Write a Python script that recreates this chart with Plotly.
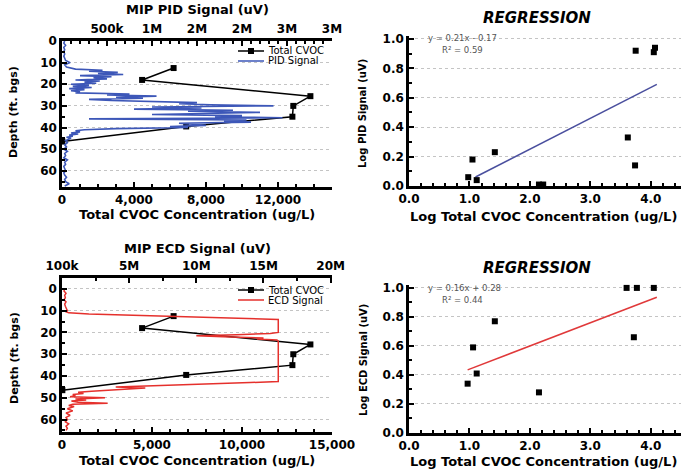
import plotly.graph_objects as go

W, H = 693, 471
FONT = "DejaVu Sans"

# ---------------- data ----------------
# Total CVOC profile (ug/L) vs depth (ft bgs), same boring in both panels
cvoc_depth = [12.5, 18, 25.5, 30, 35, 39.5, 46.5]
cvoc_conc = [6200, 4450, 13800, 12850, 12800, 6900, 20]

# MIP PID signal (uV) vs depth
pid_depth = [0, 1, 2, 3, 4, 5, 6, 7, 8, 9, 10, 11, 12, 13, 13.5, 14, 14.5, 15, 15.5, 16,
             16.5, 17, 17.5, 18, 18.5, 19, 19.5, 20, 20.5, 21, 21.5, 22, 22.5, 23, 23.5,
             24, 24.5, 25, 25.5, 26, 26.5, 27, 27.5, 28, 28.5, 29, 29.5, 30, 30.5, 31,
             31.5, 32, 32.5, 33, 33.5, 34, 34.5, 35, 35.5, 36, 36.5, 37, 37.5, 38, 38.5,
             39, 39.5, 40, 40.5, 41, 41.5, 42, 42.5, 43, 43.5, 44, 44.5, 45, 46, 47, 48,
             49, 50, 51, 52, 53, 54, 55, 56, 57, 58, 59, 60, 61, 62, 63, 64, 65, 66, 67]
pid_signal = [30e3, 20e3, 40e3, 20e3, 30e3, 20e3, 30e3, 20e3, 30e3, 40e3, 90e3, 30e3, 50e3,
              150e3, 450e3, 300e3, 620e3, 400e3, 680e3, 200e3, 550e3, 350e3, 500e3, 150e3,
              420e3, 250e3, 380e3, 100e3, 300e3, 120e3, 330e3, 80e3, 250e3, 100e3, 200e3,
              150e3, 750e3, 500e3, 1050e3, 600e3, 900e3, 300e3, 550e3, 1200e3, 1500e3,
              1300e3, 1650e3, 2350e3, 1000e3, 1550e3, 800e3, 1900e3, 1400e3, 2200e3,
              1600e3, 1000e3, 2000e3, 1700e3, 2450e3, 300e3, 2050e3, 1800e3, 2100e3,
              1300e3, 1450e3, 1600e3, 1200e3, 1400e3, 600e3, 250e3, 150e3, 200e3, 100e3,
              180e3, 80e3, 120e3, 50e3, 100e3, 40e3, 60e3, 30e3, 50e3, 20e3, 60e3, 30e3,
              40e3, 20e3, 60e3, 30e3, 40e3, 20e3, 30e3, 40e3, 20e3, 30e3, 50e3, 30e3,
              40e3, 80e3, 30e3]

# MIP ECD signal (uV) vs depth
ecd_depth = [0, 1, 2, 3, 4, 5, 6, 7, 8, 9, 10, 10.5, 11, 11.5, 12, 12.5, 13, 13.5, 14, 20,
             20.5, 21, 21.5, 22, 22.5, 23, 23.5, 24, 42.5, 43, 43.5, 44, 44.5, 45, 45.5, 46,
             46.5, 47, 47.5, 48, 48.5, 49, 49.5, 50, 50.5, 51, 51.5, 52, 52.5, 53, 53.5,
             54, 55, 56, 57, 58, 59, 60, 61, 62, 63, 64, 65]
ecd_signal = [0.2e6, 0.15e6, 0.3e6, 0.2e6, 0.25e6, 0.15e6, 0.3e6, 0.2e6, 0.25e6, 0.3e6,
              0.4e6, 0.3e6, 0.5e6, 2e6, 5e6, 8.5e6, 11e6, 14e6, 16.1e6, 16.1e6, 15.5e6,
              13e6, 10e6, 12e6, 15e6, 14.5e6, 16e6, 16.1e6, 16.1e6, 14e6, 11e6, 8e6,
              5.5e6, 4e6, 6.2e6, 4.5e6, 3e6, 2.2e6, 1.2e6, 1.6e6, 0.8e6, 1.0e6, 0.6e6,
              3.2e6, 1.0e6, 1.8e6, 0.7e6, 1.2e6, 3.4e6, 0.8e6, 0.5e6, 0.9e6, 0.4e6, 0.8e6,
              0.3e6, 0.6e6, 0.3e6, 0.4e6, 0.25e6, 0.5e6, 0.3e6, 0.4e6, 0.3e6]

# Regression panels (log10 values)
pid_reg_x = [0.98, 1.05, 1.12, 1.42, 2.15, 2.22, 3.62, 3.74, 3.75, 4.05, 4.07]
pid_reg_y = [0.06, 0.18, 0.04, 0.23, 0.01, 0.01, 0.33, 0.14, 0.92, 0.91, 0.94]
pid_slope, pid_intercept, pid_r2 = 0.21, -0.17, 0.59
pid_fit_x = [1.1, 4.1]

ecd_reg_x = [0.97, 1.06, 1.12, 1.42, 2.15, 3.60, 3.72, 3.77, 4.05]
ecd_reg_y = [0.34, 0.59, 0.41, 0.77, 0.28, 1.00, 0.66, 1.00, 1.00]
ecd_slope, ecd_intercept, ecd_r2 = 0.16, 0.28, 0.44
ecd_fit_x = [0.97, 4.1]

depth_ticks = [0, 10, 20, 30, 40, 50, 60]
pid_tickvals = [0.5e6, 1e6, 1.5e6, 2e6, 2.5e6, 3e6]
pid_ticktext = ["500k", "1M", "2M", "2M", "3M", "3M"]
ecd_tickvals = [0, 5e6, 10e6, 15e6, 20e6]
ecd_ticktext = ["100k", "5M", "10M", "15M", "20M"]
conc_ticks_top = [0, 4000, 8000, 12000]
conc_ticks_bot = [0, 5000, 10000, 15000]

BLUE = "#3d57b8"
RED = "#e5302c"
PIDLINE = "#4a4f9e"
REGRED = "#e0393a"


def px(x):
    return x / W


def py(y):
    return 1 - y / H


fig = go.Figure()

# signals (behind)
fig.add_trace(go.Scatter(x=pid_signal, y=pid_depth, xaxis="x2", yaxis="y", mode="lines",
                         line=dict(color=BLUE, width=1.6), name="PID Signal"))
fig.add_trace(go.Scatter(x=ecd_signal, y=ecd_depth, xaxis="x5", yaxis="y4", mode="lines",
                         line=dict(color=RED, width=1.5), name="ECD Signal"))
# CVOC profiles
for xa, ya in (("x", "y"), ("x4", "y4")):
    fig.add_trace(go.Scatter(x=cvoc_conc, y=cvoc_depth, xaxis=xa, yaxis=ya, mode="lines+markers",
                             line=dict(color="black", width=1.5),
                             marker=dict(symbol="square", size=6, color="black"),
                             name="Total CVOC", cliponaxis=False))

# regression panels
fig.add_trace(go.Scatter(x=pid_fit_x, y=[pid_slope * v + pid_intercept for v in pid_fit_x],
                         xaxis="x3", yaxis="y3", mode="lines", line=dict(color=PIDLINE, width=1.5)))
fig.add_trace(go.Scatter(x=pid_reg_x, y=pid_reg_y, xaxis="x3", yaxis="y3", mode="markers",
                         marker=dict(symbol="square", size=6, color="black"), cliponaxis=False))
fig.add_trace(go.Scatter(x=ecd_fit_x, y=[ecd_slope * v + ecd_intercept for v in ecd_fit_x],
                         xaxis="x6", yaxis="y6", mode="lines", line=dict(color=REGRED, width=1.5)))
fig.add_trace(go.Scatter(x=ecd_reg_x, y=ecd_reg_y, xaxis="x6", yaxis="y6", mode="markers",
                         marker=dict(symbol="square", size=6, color="black"), cliponaxis=False))

TICKFONT = dict(family=FONT, size=12, color="black", weight="bold")
common = dict(showline=True, linecolor="black", linewidth=2.5, ticks="inside", tickcolor="black",
              tickwidth=2, ticklen=5, tickfont=TICKFONT, showgrid=False, zeroline=False,
              fixedrange=True, automargin=False)
GRID = dict(showgrid=True, gridcolor="#c4c4c4", griddash="dot", gridwidth=1)
MINOR = dict(ticks="inside", ticklen=3, tickwidth=1.5, tickcolor="black", showgrid=False)

LX = [px(62), px(332)]
RX = [px(409), px(681)]

fig.update_layout(
    template="none",
    width=W, height=H, margin=dict(l=0, r=0, t=0, b=0), autosize=False, showlegend=False,
    paper_bgcolor="white", plot_bgcolor="white",
    xaxis=dict(domain=LX, anchor="y", range=[0, 15000], tickvals=conc_ticks_top,
               ticktext=["0", "4,000", "8,000", "12,000"],
               minor=dict(dtick=1000, **MINOR), **common),
    xaxis2=dict(overlaying="x", anchor="y", side="top", range=[0, 3.0e6], tickvals=pid_tickvals,
                ticktext=pid_ticktext, minor=dict(dtick=1e5, **MINOR), **common),
    yaxis=dict(domain=[py(187), py(41)], anchor="x", range=[67.5, 0], tickvals=depth_ticks,
               minor=dict(dtick=5, **MINOR), **{**common, **GRID}),
    xaxis3=dict(domain=RX, anchor="y3", range=[0, 4.5], dtick=1, tickformat=".1f",
                minor=dict(dtick=0.2, **MINOR), **common),
    yaxis3=dict(domain=[py(186), py(36)], anchor="x3", range=[0, 1.02], dtick=0.2, tickformat=".1f",
                minor=dict(dtick=0.1, **MINOR), **{**common, **GRID}),
    xaxis4=dict(domain=LX, anchor="y4", range=[0, 15000], tickvals=conc_ticks_bot,
                ticktext=["0", "5,000", "10,000", "15,000"],
                minor=dict(dtick=1000, **MINOR), **common),
    xaxis5=dict(overlaying="x4", anchor="y4", side="top", range=[0, 20.1e6], tickvals=ecd_tickvals,
                ticktext=ecd_ticktext, minor=dict(dtick=2.5e6, **MINOR), **common),
    yaxis4=dict(domain=[py(432), py(278)], anchor="x4", range=[65.7, -5], tickvals=depth_ticks,
                minor=dict(dtick=5, **MINOR), **{**common, **GRID}),
    xaxis6=dict(domain=RX, anchor="y6", range=[0, 4.5], dtick=1, tickformat=".1f",
                minor=dict(dtick=0.2, **MINOR), **common),
    yaxis6=dict(domain=[py(433), py(285)], anchor="x6", range=[0, 1.02], dtick=0.2, tickformat=".1f",
                minor=dict(dtick=0.1, **MINOR), **{**common, **GRID}),
)


def ann(text, x, y, size, angle=0, bold=True, italic=False, color="black", xanchor="center"):
    return dict(xref="paper", yref="paper", x=px(x), y=py(y), text=text, showarrow=False,
                textangle=angle, xanchor=xanchor, yanchor="middle",
                font=dict(family=FONT, size=size, color=color,
                          weight="bold" if bold else "normal",
                          style="italic" if italic else "normal"))


annotations = [
    ann("MIP PID Signal (uV)", 197, 10, 13),
    ann("MIP ECD Signal (uV)", 197, 248, 13),
    ann("Total CVOC Concentration (ug/L)", 197, 214, 13),
    ann("Total CVOC Concentration (ug/L)", 197, 460, 13),
    ann("Depth (ft. bgs)", 14, 112, 11, angle=-90),
    ann("Depth (ft. bgs)", 14, 358, 11, angle=-90),
    ann("REGRESSION", 537, 18, 15, italic=True),
    ann("REGRESSION", 537, 268, 15, italic=True),
    ann("Log Total CVOC Concentration (ug/L)", 543, 216, 13),
    ann("Log Total CVOC Concentration (ug/L)", 543, 461, 13),
    ann("Log PID Signal (uV)", 363, 114, 10, angle=-90),
    ann("Log ECD Signal (uV)", 363, 360, 10, angle=-90),
    ann(f"y = {pid_slope:.2f}x - {abs(pid_intercept):.2f}", 426, 38, 8.5, bold=False, color="#555",
        xanchor="left"),
    ann(f"R² = {pid_r2:.2f}", 440, 50, 8.5, bold=False, color="#555", xanchor="left"),
    ann(f"y = {ecd_slope:.2f}x + {ecd_intercept:.2f}", 426, 288, 8.5, bold=False, color="#555",
        xanchor="left"),
    ann(f"R² = {ecd_r2:.2f}", 440, 300, 8.5, bold=False, color="#555", xanchor="left"),
    ann("Total CVOC", 266, 51, 10, bold=False, xanchor="left"),
    ann("PID Signal", 266, 61, 10, bold=False, xanchor="left"),
    ann("Total CVOC", 266, 290, 10, bold=False, xanchor="left"),
    ann("ECD Signal", 266, 300, 10, bold=False, xanchor="left"),
]

shapes = []
for (ly1, ly2, col) in ((51, 61, BLUE), (290, 300, RED)):
    shapes.append(dict(type="line", xref="paper", yref="paper", x0=px(238), x1=px(264),
                       y0=py(ly1), y1=py(ly1), line=dict(color="black", width=1.5)))
    shapes.append(dict(type="rect", xref="paper", yref="paper", x0=px(248), x1=px(254),
                       y0=py(ly1 + 3), y1=py(ly1 - 3), fillcolor="black", line=dict(width=0)))
    shapes.append(dict(type="line", xref="paper", yref="paper", x0=px(238), x1=px(264),
                       y0=py(ly2), y1=py(ly2), line=dict(color=col, width=1.5)))

fig.update_layout(annotations=annotations, shapes=shapes)
fig.write_html("out.html")
